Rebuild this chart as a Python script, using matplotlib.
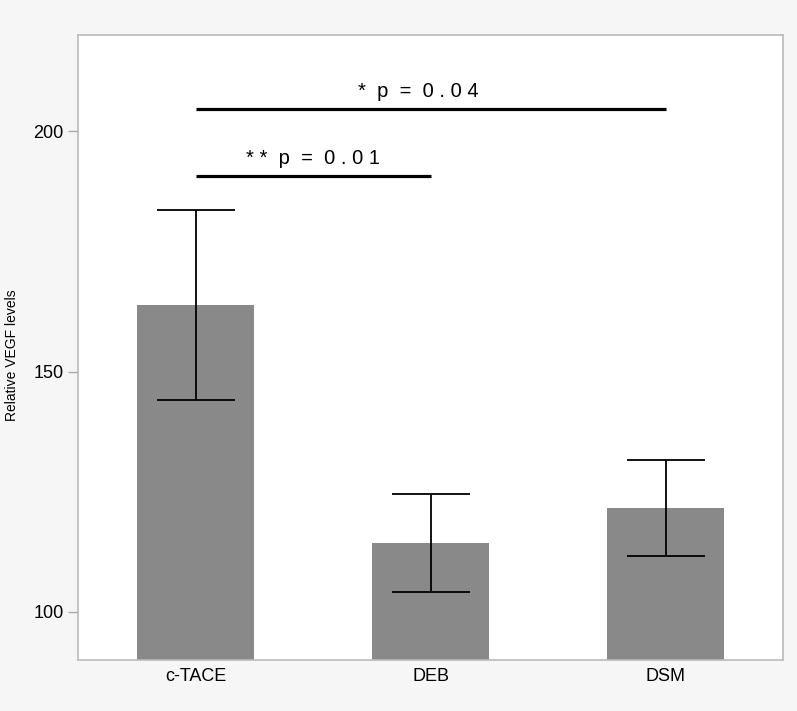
import matplotlib.pyplot as plt

plt.rcParams["font.family"] = ["Liberation Sans", "DejaVu Sans"]

groups = ["c-TACE", "DEB", "DSM"]
means = [163.8, 114.3, 121.6]
errors = [19.8, 10.2, 10.0]
yticks = [100, 150, 200]

# significance brackets: (start group, end group, level, label, text x, text y)
brackets = [
    (0, 1, 190.6, "* *  p  =  0 . 0 1", 0.5, 192.3),
    (0, 2, 204.6, "*  p  =  0 . 0 4", 0.95, 206.3),
]

fig = plt.figure(figsize=(7.97, 7.11), dpi=100, facecolor="#f6f6f6")
ax = fig.add_axes([78 / 797, 1 - 660 / 711, 705 / 797, 625 / 711])
ax.set_facecolor("white")

x = range(len(groups))
ax.bar(x, means, width=0.5, color="#898989", zorder=2)
ax.errorbar(x, means, yerr=errors, fmt="none", ecolor="black",
            elinewidth=1.3, capsize=28, capthick=1.3, zorder=3)

for start, end, level, label, tx, ty in brackets:
    ax.plot([start, end], [level, level], color="black", lw=2.3,
            solid_capstyle="butt", zorder=3)
    ax.text(tx, ty, label, ha="center", va="bottom", fontsize=14.5)

ax.set_xlim(-0.5, 2.5)
ax.set_ylim(90, 220)
ax.set_xticks(list(x))
ax.set_xticklabels(groups, fontsize=13)
ax.set_yticks(yticks)
ax.tick_params(axis="y", labelsize=13, length=7, color="#aaaaaa", width=1)
ax.tick_params(axis="x", length=0, pad=6)
for s in ax.spines.values():
    s.set_color("#bbbbbb")
    s.set_linewidth(1.2)

fig.text(12 / 797, 0.5, "Relative VEGF levels", rotation=90,
         ha="center", va="center", fontsize=10)

fig.savefig("out.png", dpi=100, facecolor=fig.get_facecolor())
